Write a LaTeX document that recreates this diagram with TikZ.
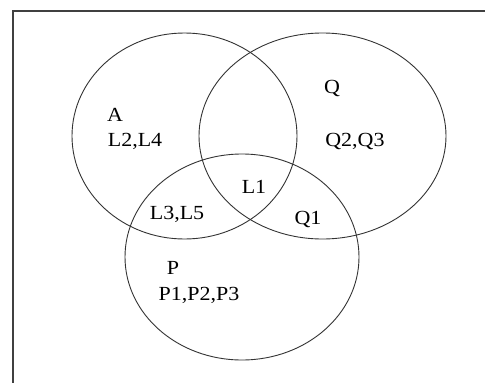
\documentclass[tikz,border=0pt]{standalone}
\usepackage{fontspec}
\setmainfont{Liberation Serif}
\begin{document}
\begin{tikzpicture}[x=1pt,y=-1pt,
  setline/.style={draw=black!80,line width=0.9pt},
  lbl/.style={font=\fontsize{20}{22}\selectfont,inner sep=0pt,xscale=1.1}]
\useasboundingbox (0,0) rectangle (485,383);
\fill[white] (0,0) rectangle (485,383);
\draw[black!75,line width=1.2pt] (13,383) -- (13,11) -- (485,11);
\draw[setline] (184.5,136) ellipse [x radius=112.5, y radius=103];
\draw[setline] (322.5,136) ellipse [x radius=123.5, y radius=103];
\draw[setline] (242,257) ellipse [x radius=117, y radius=103];
\node[lbl] (a) at (115,115) {A};
\node[lbl] (a1) at (135,141) {L2,L4};
\node[lbl] (q) at (332,88) {Q};
\node[lbl] (q1) at (355,141) {Q2,Q3};
\node[lbl] (l1) at (254,187) {L1};
\node[lbl] (l35) at (177,214) {L3,L5};
\node[lbl] (qq) at (308,219) {Q1};
\node[lbl] (p) at (173,268) {P};
\node[lbl] (p1) at (199,295) {P1,P2,P3};
\end{tikzpicture}
\end{document}
